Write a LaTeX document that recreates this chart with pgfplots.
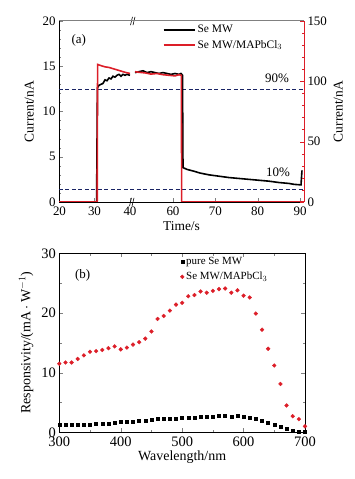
\documentclass[border=0pt]{standalone}
\usepackage{pgfplots}
\pgfplotsset{compat=1.18}
\usepackage{fontspec}
\setmainfont{Liberation Serif}
\definecolor{rd}{RGB}{220,30,40}
\definecolor{nv}{RGB}{25,35,100}
\newcommand{\tfa}{\fontsize{13}{15}\selectfont}
\newcommand{\tfb}{\fontsize{14.5}{16}\selectfont}
\pgfplotsset{
  mystyle/.style={
    major tick length=4pt, minor tick length=2.5pt,
  }
}
\begin{document}
\begin{tikzpicture}[font=\fontsize{12}{14}\selectfont]
\path[use as bounding box] (0,0) rectangle (355bp,479bp);
% ---------- top panel, left axis ----------
\begin{axis}[mystyle,
  at={(59bp,277bp)}, anchor=south west,
  width=245bp, height=181bp, scale only axis,
  xmin=0, xmax=245, ymin=0, ymax=20,
  xtick={0.5,35.5,71,114,156.3,198.7,241},
  xticklabels={{\tfa 20},{\tfa 30},{\tfa 40},{\tfa 60},{\tfa 70},{\tfa 80},{\tfa 90}},
  ytick={0,5,10,15,20}, minor y tick num=4,
  yticklabel={\tfa\pgfmathprintnumber[assume math mode=true]{\tick}},
  tick align=inside, axis y line*=left, axis x line*=bottom,
  axis line style={line width=0.8pt},
  xlabel={\fontsize{13.5}{15}\selectfont Time/s},
  ylabel={\fontsize{13.5}{15}\selectfont Current/nA},
  xlabel style={yshift=1pt}, ylabel style={yshift=2pt},
  xticklabel style={yshift=-1pt},
  clip=false,
  legend style={draw=none, fill=none, at={(0.41,1.0)}, anchor=north west,
    font=\fontsize{11.5}{13}\selectfont, row sep=2pt},
  legend cell align=left,
  legend image code/.code={\draw[#1, line width=1.8pt] (0cm,0cm) -- (1.1cm,0cm);},
]
\addlegendimage{black}
\addlegendentry{Se MW}
\addlegendimage{rd}
\addlegendentry{Se MW/MAPbCl$_3$}
\draw[nv, dash pattern=on 4pt off 2.5pt, line width=0.9pt] (axis cs:0,12.45) -- (axis cs:245,12.45);
\draw[nv, dash pattern=on 4pt off 2.5pt, line width=0.9pt] (axis cs:0,1.4) -- (axis cs:245,1.4);
\addplot[black, line width=1.6pt] coordinates {
(0,0) (37.6,0) (38.4,12.6) (40,12.9) (42,13.0) (44,13.1) (46,13.5) (48,13.4)
(50,13.7) (52,13.6) (54,13.9) (56,13.8) (58,14.0) (60,14.1) (62,13.9) (64,14.1)
(66,14.0) (68,14.1) (71,14.0)};
\addplot[black, line width=1.6pt] coordinates {
(76,14.3) (80,14.4) (84,14.5) (88,14.3) (92,14.4) (96,14.3) (100,14.2) (104,14.3)
(108,14.2) (112,14.1) (116,14.2) (120,14.1) (122,14.2) (123.5,14.0) (124,3.8)
(128,3.6) (135,3.4) (141,3.2) (150,3.0) (160,2.85) (170,2.7) (180,2.6) (190,2.5)
(200,2.4) (210,2.3) (220,2.15) (230,2.05) (235,1.95) (241,1.9) (242,1.9) (243,3.5)};
\node[anchor=west, font=\tfa] at (axis cs:9,17.9) {(a)};
\node[font=\tfa] at (axis cs:218,13.7) {90\%};
\node[font=\tfa] at (axis cs:219,3.3) {10\%};
% break marks
\draw[black, line width=0.6pt] (axis cs:70.5,-0.45) -- (axis cs:72.5,0.45);
\draw[black, line width=0.6pt] (axis cs:73,-0.45) -- (axis cs:75,0.45);
\draw[black, line width=0.6pt] (axis cs:71.5,19.55) -- (axis cs:73.5,20.45);
\draw[black, line width=0.6pt] (axis cs:74,19.55) -- (axis cs:76,20.45);
\draw[gray, line width=1pt] (axis cs:0,20) -- (axis cs:245,20);
\end{axis}
% ---------- top panel, right axis ----------
\begin{axis}[mystyle,
  at={(59bp,277bp)}, anchor=south west,
  width=245bp, height=181bp, scale only axis,
  xmin=0, xmax=245, ymin=0, ymax=150,
  axis y line*=right, axis x line=none,
  ytick={0,50,100,150}, minor y tick num=4,
  yticklabel={\tfa\pgfmathprintnumber[assume math mode=true]{\tick}},
  tick align=inside,
  y axis line style={rd, line width=1pt},
  every y tick/.style={rd}, every minor y tick/.style={rd},
  ylabel={\fontsize{13.5}{15}\selectfont Current/nA},
  ylabel style={yshift=0pt},
]
\addplot[rd, line width=1.6pt] coordinates {
(0,0) (38.2,0) (38.6,114) (42,113) (46,112) (50,111.5) (54,110.5) (58,109.5)
(62,108.5) (66,107.5) (71,106.5)};
\addplot[rd, line width=1.6pt] coordinates {
(76,108) (80,107.5) (86,107) (92,106) (98,106.5) (104,105.5) (110,105) (116,104.5)
(120,105.5) (122.3,105) (122.7,0) (245,0)};
\end{axis}
% ---------- bottom panel ----------
\begin{axis}[mystyle,
  at={(59.3bp,46.7bp)}, anchor=south west,
  width=245.7bp, height=179bp, scale only axis,
  xmin=300, xmax=700, ymin=0, ymax=30,
  xtick={300,400,500,600,700}, ytick={0,10,20,30},
  xticklabel={\tfb\pgfmathprintnumber[assume math mode=true]{\tick}},
  yticklabel={\tfb\pgfmathprintnumber[assume math mode=true]{\tick}},
  minor x tick num=1, minor y tick num=1,
  tick align=inside,
  axis line style={line width=0.8pt},
  xticklabel style={yshift=-1pt},
  xlabel={\fontsize{14}{16}\selectfont Wavelength/nm},
  ylabel={\fontsize{14}{16}\selectfont Responsivity/(mA\,$\cdot$\,W$^{-1}$)},
  xlabel style={yshift=3pt}, ylabel style={yshift=1pt},
  clip=false,
  legend style={draw=none, fill=none, at={(0.48,1.0)}, anchor=north west,
    font=\fontsize{11}{13}\selectfont, row sep=2pt},
  legend cell align=left,
]
\addplot[only marks, mark=square*, mark size=1.5pt, black] coordinates {
(300,1.3) (310,1.3) (320,1.3) (330,1.3) (340,1.3) (350,1.3) (360,1.5) (370,1.5)
(380,1.5) (390,1.6) (400,1.8) (410,1.7) (420,1.8) (430,1.9) (440,1.9) (450,2.1)
(460,2.2) (470,2.2) (480,2.3) (490,2.3) (500,2.5) (510,2.5) (520,2.5) (530,2.6)
(540,2.6) (550,2.6) (560,2.7) (570,2.7) (580,2.6) (590,2.7) (600,2.6) (610,2.5)
(620,2.3) (630,1.9) (640,1.6) (650,1.3) (660,0.9) (670,0.6) (680,0.35) (690,0.15) (700,0.05)};
\addlegendentry{pure Se MW}
\addplot[only marks, mark=*, mark size=1.9pt, rd] coordinates {
(300,11.5) (310,11.7) (320,11.7) (330,12.3) (340,12.9) (350,13.5) (360,13.6) (370,13.8)
(380,14.1) (390,14.4) (400,13.9) (410,14.2) (420,14.7) (430,15.1) (440,15.7) (450,16.9)
(460,19.0) (470,19.5) (480,20.4) (490,21.4) (500,21.7) (510,22.8) (520,23.0) (530,23.6)
(540,23.4) (550,23.7) (560,24.0) (570,24.1) (580,23.4) (590,23.8) (600,22.9) (610,22.6)
(620,19.9) (630,17.2) (640,14.0) (650,11.2) (660,8.1) (670,4.5) (680,2.7) (690,2.2) (700,1.0)};
\addlegendentry{Se MW/MAPbCl$_3$}
\node[anchor=west, font=\tfa] at (axis cs:320,26.3) {(b)};
\end{axis}
\end{tikzpicture}
\end{document}
